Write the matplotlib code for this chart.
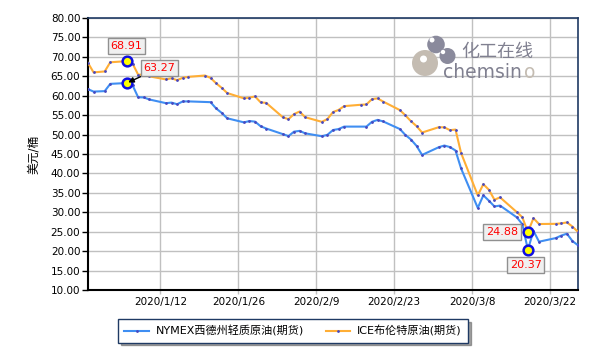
import matplotlib
matplotlib.use("Agg")
import matplotlib.pyplot as plt
from matplotlib.patches import Circle
import numpy as np
from datetime import datetime

plt.rcParams['font.family'] = ['DejaVu Sans', 'Noto Sans CJK SC']

# trading days (NaN = no settlement that day)
dates = ["2019-12-30", "2019-12-31", "2020-01-02", "2020-01-03", "2020-01-06",
         "2020-01-07", "2020-01-08", "2020-01-09", "2020-01-10", "2020-01-13",
         "2020-01-14", "2020-01-15", "2020-01-16", "2020-01-17", "2020-01-20",
         "2020-01-21", "2020-01-22", "2020-01-23", "2020-01-24", "2020-01-27",
         "2020-01-28", "2020-01-29", "2020-01-30", "2020-01-31", "2020-02-03",
         "2020-02-04", "2020-02-05", "2020-02-06", "2020-02-07", "2020-02-10",
         "2020-02-11", "2020-02-12", "2020-02-13", "2020-02-14", "2020-02-17",
         "2020-02-18", "2020-02-19", "2020-02-20", "2020-02-21", "2020-02-24",
         "2020-02-25", "2020-02-26", "2020-02-27", "2020-02-28", "2020-03-02",
         "2020-03-03", "2020-03-04", "2020-03-05", "2020-03-06", "2020-03-09",
         "2020-03-10", "2020-03-11", "2020-03-12", "2020-03-13", "2020-03-16",
         "2020-03-17", "2020-03-18", "2020-03-19", "2020-03-20", "2020-03-23",
         "2020-03-24", "2020-03-25", "2020-03-26", "2020-03-27"]

wti = [61.68, 61.06, 61.18, 63.05, 63.27,
       62.70, 59.61, 59.56, 59.04, 58.08,
       58.23, 57.81, 58.52, 58.54, np.nan,
       58.34, 56.74, 55.59, 54.19, 53.14,
       53.48, 53.33, 52.14, 51.56, 50.11,
       49.61, 50.75, 50.95, 50.32, 49.57,
       49.94, 51.17, 51.42, 52.05, np.nan,
       52.05, 53.29, 53.78, 53.38, 51.43,
       49.90, 48.73, 47.09, 44.76, 46.75,
       47.18, 46.78, 45.90, 41.28, 31.13,
       34.36, 32.98, 31.50, 31.73, 28.70,
       26.95, 20.37, 25.22, 22.43, 23.36,
       24.01, 24.49, 22.60, 21.51]

brent = [68.44, 66.00, 66.25, 68.60, 68.91,
         68.27, 65.44, 65.37, 64.98, 64.20,
         64.49, 64.00, 64.62, 64.85, 65.20,
         64.59, 63.21, 62.04, 60.69, 59.32,
         59.51, 59.81, 58.29, 58.16, 54.45,
         53.96, 55.28, 55.93, 54.47, 53.27,
         54.01, 55.79, 56.34, 57.32, 57.67,
         57.75, 59.12, 59.31, 58.50, 56.30,
         54.95, 53.43, 52.18, 50.52, 51.90,
         51.86, 51.13, 51.29, 45.27, 34.36,
         37.22, 35.79, 33.22, 33.85, 30.05,
         28.73, 24.88, 28.47, 26.98, 27.03,
         27.15, 27.39, 26.34, 24.93]

tick_dates = ["2020-01-12", "2020-01-26", "2020-02-09", "2020-02-23", "2020-03-08", "2020-03-22"]
tick_labels = ["2020/1/12", "2020/1/26", "2020/2/9", "2020/2/23", "2020/3/8", "2020/3/22"]

x = np.array([datetime.strptime(d, "%Y-%m-%d") for d in dates])
wti = np.array(wti)
brent = np.array(brent)
ticks = [datetime.strptime(d, "%Y-%m-%d") for d in tick_dates]

blue = '#3f8ef2'
orange = '#ffae35'
dot = '#4848c0'

fig = plt.figure(figsize=(6, 3.6), dpi=100)
ax = fig.add_axes([88 / 600, 1 - 290 / 360, 490 / 600, 272 / 360])

m = ~np.isnan(wti)
ax.plot(x[m], wti[m], color=blue, lw=1.5, zorder=3)
ax.plot(x[m], wti[m], 'o', color=dot, ms=1.0, zorder=4)
ax.plot(x, brent, color=orange, lw=1.5, zorder=3)
ax.plot(x, brent, 'o', color=dot, ms=1.0, zorder=4)

ax.set_xlim(x[0], x[-1])
ax.set_ylim(10, 80)
ax.set_yticks(np.arange(10, 81, 5))
ax.set_yticklabels([f"{v:.2f}" for v in np.arange(10, 81, 5)])
ax.set_xticks(ticks)
ax.set_xticklabels(tick_labels)
ax.grid(True, color='#c0c0c0', lw=1)
ax.set_axisbelow(True)
ax.tick_params(axis='y', length=4, width=1, color='black', labelsize=7.5, pad=1.5)
ax.tick_params(axis='x', length=3, width=1, color='#c0c0c0', labelsize=7.5, pad=2)
for s in ['left', 'bottom']:
    ax.spines[s].set_color('black')
    ax.spines[s].set_linewidth(1.5)
for s in ['top', 'right']:
    ax.spines[s].set_color('#1f3a64')
    ax.spines[s].set_linewidth(1.2)

ax.set_ylabel("美元/桶", fontsize=8.5, labelpad=8)

# highlighted points
i_max = int(np.nanargmax(brent))
i_min = int(np.nanargmin(wti))
for xi, yi in [(x[i_max], brent[i_max]), (x[i_max], wti[i_max]),
               (x[i_min], brent[i_min]), (x[i_min], wti[i_min])]:
    ax.plot(xi, yi, 'o', ms=7, mfc='#ffff00', mec='#1010e0', mew=1.8, zorder=6)

box = dict(boxstyle='square,pad=0.25', fc='#f0f0f0', ec='#909090', lw=1)
ax.annotate(f"{brent[i_max]:.2f}", (x[i_max], brent[i_max]), xytext=(-12, 11),
            textcoords='offset points', ha='left', va='center', color='red',
            fontsize=8, bbox=box, zorder=7)
ax.annotate(f"{wti[i_max]:.2f}", (x[i_max], wti[i_max]), xytext=(12, 11),
            textcoords='offset points', ha='left', va='center', color='red',
            fontsize=8, bbox=box, zorder=7,
            arrowprops=dict(arrowstyle='-|>', color='black', lw=1, mutation_scale=8,
                            shrinkA=0, shrinkB=1))
ax.annotate(f"{brent[i_min]:.2f}", (x[i_min], brent[i_min]), xytext=(-7, 0),
            textcoords='offset points', ha='right', va='center', color='red',
            fontsize=8, bbox=box, zorder=7)
ax.annotate(f"{wti[i_min]:.2f}", (x[i_min], wti[i_min]), xytext=(-13, -11),
            textcoords='offset points', ha='left', va='center', color='red',
            fontsize=8, bbox=box, zorder=7)

# watermark logo (positions in inches from lower left)
tr = fig.dpi_scale_trans
for cx, cy, r, c in [(4.25, 2.97, 0.13, '#c4bcb2'), (4.36, 3.155, 0.088, '#8a8a9c'),
                     (4.475, 3.04, 0.08, '#8a8a9c')]:
    fig.patches.append(Circle((cx, cy), r, transform=tr, fc=c, ec='none', zorder=2))
for cx, cy, r in [(4.235, 3.01, 0.035), (4.32, 3.20, 0.025), (4.43, 3.08, 0.022)]:
    fig.patches.append(Circle((cx, cy), r, transform=tr, fc='white', ec='none', zorder=2))
fig.text(461 / 600, 1 - 52 / 360, "化工在线", fontsize=13, color='#808090',
         family=['Noto Sans CJK SC'], va='center', ha='left')
fig.text(443 / 600, 1 - 72 / 360, "chemsin", fontsize=13.5, color='#808090',
         va='center', ha='left')
fig.text(524 / 600, 1 - 72 / 360, "o", fontsize=13.5, color='#c4bcb2',
         va='center', ha='left')

# legend
h1, = ax.plot([], [], color=blue, lw=1.5, marker='o', ms=1.0, mfc=dot, mec=dot)
h2, = ax.plot([], [], color=orange, lw=1.5, marker='o', ms=1.0, mfc=dot, mec=dot)
leg = fig.legend([h1, h2], ["NYMEX西德州轻质原油(期货)", "ICE布伦特原油(期货)"],
                 loc='center', bbox_to_anchor=(293 / 600, 1 - 331 / 360), ncol=2,
                 fontsize=8, frameon=True, fancybox=False, shadow=True,
                 handlelength=2.2, handletextpad=0.6, columnspacing=2.0,
                 borderpad=0.55, numpoints=1)
leg.get_frame().set_edgecolor('#1f3a64')
leg.get_frame().set_linewidth(1)

fig.savefig("out.png", dpi=100)
